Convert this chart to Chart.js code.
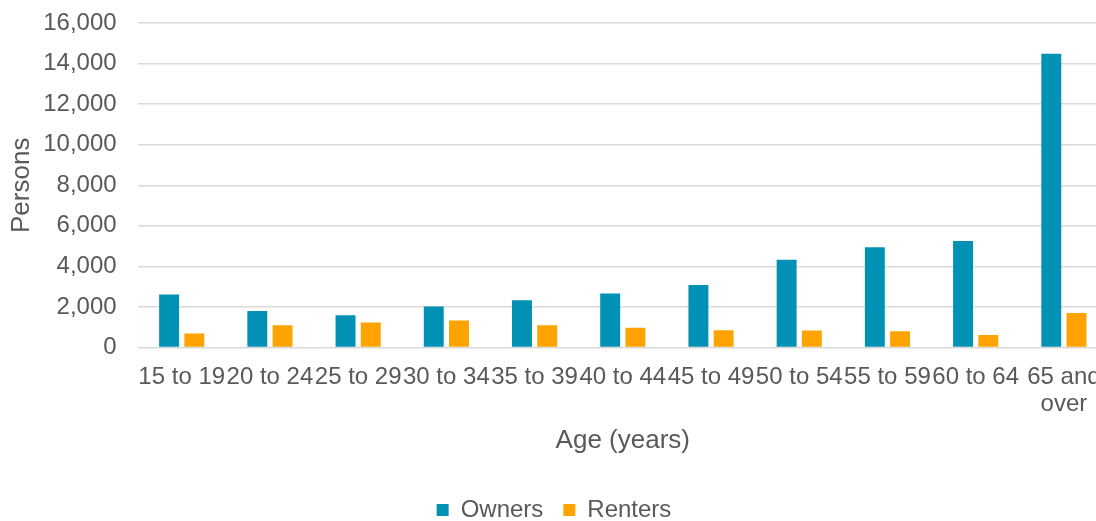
<!DOCTYPE html>
<html>
<head>
<meta charset="utf-8">
<script src="https://cdn.jsdelivr.net/npm/chart.js@4/dist/chart.umd.min.js"></script>
<style>
    html, body { margin: 0; padding: 0; background: #fff; overflow: hidden; }
    #wrap { width: 1108px; height: 521px; }
</style>
</head>
<body>
<div id="wrap"><canvas id="ageChart"></canvas></div>
<script>
// Data
const ageGroups = ['15 to 19', '20 to 24', '25 to 29', '30 to 34', '35 to 39', '40 to 44',
    '45 to 49', '50 to 54', '55 to 59', '60 to 64', ['65 and', 'over']];
const owners = [2610, 1800, 1590, 2020, 2330, 2660, 3080, 4330, 4940, 5250, 14490];
const renters = [690, 1100, 1230, 1340, 1100, 980, 850, 840, 800, 620, 1700];
const yMin = 0;
const yMax = 16000;
const yStep = 2000;

const textColor = '#595959';
const gridColor = '#d9d9d9';
Chart.defaults.font.family = '"Liberation Sans", Arial, sans-serif';
Chart.defaults.color = textColor;

const ctx = document.getElementById('ageChart');
new Chart(ctx, {
    type: 'bar',
    data: {
        labels: ageGroups,
        datasets: [{
            label: 'Owners',
            data: owners,
            backgroundColor: '#0091b4'
        }, {
            label: 'Renters',
            data: renters,
            backgroundColor: '#ffa300'
        }]
    },
    options: {
        responsive: true,
        maintainAspectRatio: false,
        animation: false,
        categoryPercentage: 0.572,
        barPercentage: 0.79,
        layout: { padding: { top: 23, left: 0, right: 0, bottom: -11 } },
        plugins: {
            tooltip: { enabled: false },
            legend: {
                position: 'bottom',
                labels: {
                    boxWidth: 12,
                    boxHeight: 12,
                    padding: 20,
                    font: { size: 24 }
                }
            }
        },
        scales: {
            x: {
                // invisible tick marks push the labels down without widening the side padding
                grid: { display: true, drawOnChartArea: false, drawTicks: true, tickLength: 16, tickColor: 'transparent' },
                border: { display: false },
                ticks: {
                    autoSkip: false,
                    maxRotation: 0,
                    minRotation: 0,
                    padding: 0,
                    font: { size: 24, lineHeight: 1.13 }
                },
                title: {
                    display: true,
                    text: 'Age (years)',
                    font: { size: 26 },
                    padding: { top: 7, bottom: 22 }
                }
            },
            y: {
                min: yMin,
                max: yMax,
                grid: { color: gridColor, lineWidth: 1.5, drawTicks: true, tickLength: 21, tickColor: 'transparent' },
                border: { display: false },
                ticks: {
                    stepSize: yStep,
                    padding: 0,
                    font: { size: 24 },
                    callback: (v) => v.toLocaleString('en-US')
                },
                title: {
                    display: true,
                    text: 'Persons',
                    font: { size: 26 },
                    padding: { top: 6, bottom: 6 }
                }
            }
        }
    }
});
</script>
</body>
</html>
